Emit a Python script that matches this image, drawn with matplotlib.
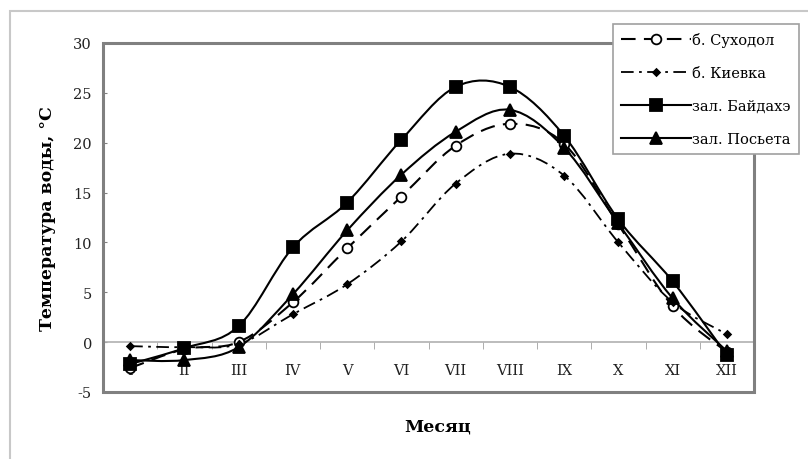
import matplotlib
matplotlib.use("Agg")
import matplotlib.pyplot as plt
from matplotlib.path import Path
from matplotlib.patches import PathPatch, Rectangle
from matplotlib.lines import Line2D
import numpy as np

plt.rcParams['font.family'] = ['DejaVu Serif', 'Liberation Serif']
plt.rcParams['axes.unicode_minus'] = False

months = ['I', 'II', 'III', 'IV', 'V', 'VI', 'VII', 'VIII', 'IX', 'X', 'XI', 'XII']
sukhodol = [-2.6, -0.7, 0.0, 4.0, 9.4, 14.6, 19.7, 21.9, 19.9, 11.8, 3.6, -1.0]
kievka = [-0.4, -0.5, -0.2, 2.8, 5.8, 10.1, 15.9, 18.9, 16.7, 10.0, 4.0, 0.8]
baidakhe = [-2.2, -0.6, 1.6, 9.5, 14.0, 20.3, 25.6, 25.6, 20.7, 12.3, 6.1, -1.3]
posyeta = [-1.8, -1.8, -0.5, 4.8, 11.2, 16.8, 21.1, 23.3, 19.5, 11.9, 4.4, -0.9]


def smooth_path(x, y):
    # Excel-like smoothed line: Catmull-Rom segments as cubic Bezier curves
    pts = np.column_stack([x, y])
    verts = [pts[0]]
    codes = [Path.MOVETO]
    n = len(pts)
    for i in range(n - 1):
        p0 = pts[i - 1] if i > 0 else pts[i]
        p1 = pts[i]
        p2 = pts[i + 1]
        p3 = pts[i + 2] if i + 2 < n else pts[i + 1]
        c1 = p1 + (p2 - p0) / 6.0
        c2 = p2 - (p3 - p1) / 6.0
        verts += [c1, c2, p2]
        codes += [Path.CURVE4] * 3
    return Path(verts, codes)


fig = plt.figure(figsize=(8.08, 4.6), dpi=100)
ax = fig.add_axes([103 / 808, 1 - 393 / 460, 651 / 808, 349 / 460])

x = np.arange(1, len(months) + 1)

series = [
    ('б. Суходол', sukhodol, (0, (7, 4)), 'o', 7, 'white', 1.5),
    ('б. Киевка', kievka, (0, (7, 3, 1.5, 3)), 'D', 3.5, 'black', 1.3),
    ('зал. Байдахэ', baidakhe, '-', 's', 8, 'black', 1.5),
    ('зал. Посьета', posyeta, '-', '^', 8, 'black', 1.5),
]

handles = []
for name, vals, ls, mk, ms, mfc, lw in series:
    patch = PathPatch(smooth_path(x, vals), fill=False, edgecolor='black',
                      linestyle=ls, linewidth=lw, zorder=3)
    ax.add_patch(patch)
    ax.plot(x, vals, linestyle='none', marker=mk, markersize=ms,
            markerfacecolor=mfc, markeredgecolor='black', markeredgewidth=1.3,
            zorder=4)
    handles.append(Line2D([], [], color='black', linestyle=ls, linewidth=lw,
                          marker=mk, markersize=ms, markerfacecolor=mfc,
                          markeredgecolor='black', markeredgewidth=1.3))

ax.set_xlim(0.5, 12.5)
ax.set_ylim(-5, 30)

for side in ['top', 'left', 'right']:
    ax.spines[side].set_visible(False)
ax.spines['bottom'].set_position(('data', 0))
ax.spines['bottom'].set_color('#b0b0b0')
ax.spines['bottom'].set_linewidth(1.2)
ax.add_patch(Rectangle((0, 0), 1, 1, transform=ax.transAxes, fill=False,
                       edgecolor='#808080', linewidth=2.2, clip_on=False, zorder=5))

ax.set_xticks(x)
ax.set_xticklabels(months)
ax.set_xticks(np.arange(1.5, 12.5, 1), minor=True)
ax.tick_params(axis='x', which='major', length=0, pad=15, labelsize=10.5,
               labelcolor='#222222')
ax.tick_params(axis='x', which='minor', length=5, color='#a0a0a0', direction='out')

ax.set_yticks(np.arange(-5, 31, 5))
ax.tick_params(axis='y', direction='in', length=3, color='#808080', pad=8,
               labelsize=10.5, labelcolor='#222222')

ax.set_ylabel('Температура воды, °С', fontsize=12.5, fontweight='bold', labelpad=12)
fig.text(438 / 808, 1 - 427 / 460, 'Месяц', ha='center', va='center',
         fontsize=12.5, fontweight='bold')

leg = fig.legend(handles, [s[0] for s in series], loc='upper left',
                 bbox_to_anchor=(613 / 808, 1 - 25 / 460), fontsize=10.5,
                 handlelength=4.8, labelspacing=1.3, handletextpad=0.1,
                 borderpad=0.55, borderaxespad=0, fancybox=False, framealpha=1,
                 edgecolor='#a0a0a0')
leg.get_frame().set_linewidth(1.2)

fig.patches.append(Rectangle((10 / 808, -0.05), 1, 1.05 - 12 / 460,
                             transform=fig.transFigure, fill=False,
                             edgecolor='#c8c8c8', linewidth=1.5))

fig.savefig('out.png', dpi=100)
